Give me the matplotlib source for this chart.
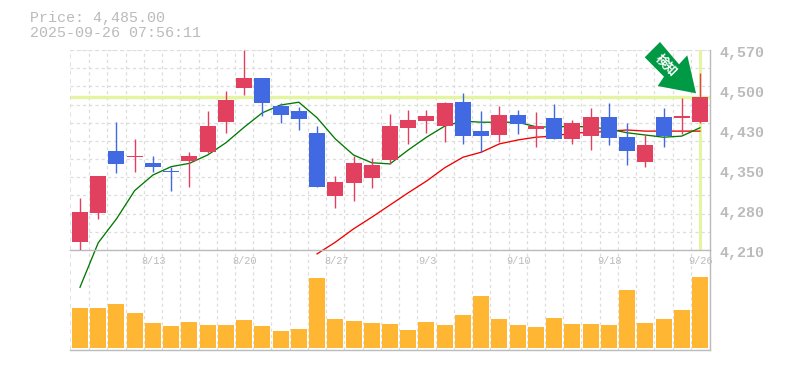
import numpy as np
import matplotlib
matplotlib.use("Agg")
import matplotlib.pyplot as plt
from matplotlib.patches import Polygon

W = 785
H = 370

opens = [4225,4277,4388,4378,4367,4351,4371,4387,4441,4502,4520,4469,4460,4421,4307,4331,4340,4372,4430,4442,
         4433,4476,4424,4417,4453,4428,4448,4410,4415,4449,4413,4368,4449,4448,4440]
closes = [4278,4343,4365,4380,4360,4350,4379,4433,4480,4520,4475,4453,4446,4324,4332,4367,4363,4433,4444,4451,
          4475,4415,4415,4453,4437,4433,4410,4439,4449,4412,4388,4399,4415,4451,4485]
highs = [4304,4343,4440,4410,4379,4359,4386,4460,4496,4570,4520,4474,4467,4433,4343,4379,4376,4455,4462,4462,
         4476,4493,4460,4469,4462,4458,4473,4444,4466,4475,4439,4419,4466,4484,4529]
lows = [4210,4266,4349,4351,4351,4317,4324,4385,4421,4489,4451,4439,4426,4323,4286,4298,4322,4365,4401,4421,
        4404,4401,4386,4404,4419,4395,4410,4401,4390,4399,4363,4359,4395,4419,4439]
ma_short = [4143,4223,4266,4317,4345,4360,4366,4381,4403,4431,4457,4471,4476,4448,4410,4381,4367,4365,4390,4413,
            4433,4442,4440,4440,4440,4432,4431,4433,4431,4428,4421,4417,4413,4415,4430]
ma_long = [np.nan]*13 + [4203,4224,4248,4269,4291,4313,4334,4358,4377,4386,4401,4408,4413,4415,4421,4421,4424,
                         4426,4424,4424,4424,4424]
volumes = [40,40,44,35,25,22,26,23,23,28,22,17,19,70,29,27,25,24,18,26,23,33,52,29,23,21,30,24,24,23,58,25,29,38,71]

price_ticks = [4210,4282,4354,4426,4498,4570]
price_labels = ["4,210","4,280","4,350","4,430","4,500","4,570"]
date_pos = [4,9,14,19,24,29,34]
date_labels = ["8/13","8/20","8/27","9/3","9/10","9/18","9/26"]
last_price = 4485

RED = "#E2405F"
BLUE = "#4169E1"
GREY = "#BBBBBB"
GRID = "#DDDDDD"
MARK = "#E3F5A0"
MONO = "Liberation Mono"

fig = plt.figure(figsize=(W/100, H/100), dpi=100)
vol = fig.add_axes([70/W, 1-350/H, 640/W, 100/H], zorder=1)
ax = fig.add_axes([70/W, 1-250/H, 640/W, 200/H], zorder=2)
ax.patch.set_alpha(0)

x = np.arange(len(opens))
xlim = (-10/18.235, 630/18.235)

for a in (ax, vol):
    a.set_xlim(xlim)
    a.spines["top"].set_visible(False)
    a.spines["left"].set_visible(False)
    a.spines["right"].set_color(GREY)
    a.spines["bottom"].set_color(GREY)
    a.spines["right"].set_linewidth(1.0)
    a.spines["bottom"].set_linewidth(1.0)
    a.set_xticks(x[:-1] + 0.5, minor=False)
    a.set_xticklabels([])
    a.tick_params(length=0, labelleft=False, labelbottom=False)
    a.grid(True, axis="x", color=GRID, linestyle=(0, (2.5, 2.5)), linewidth=0.9)
    a.axvline(xlim[0], color=GRID, linestyle=(0, (2.5, 2.5)), linewidth=1.2)
    a.set_axisbelow(True)

# price panel
ax.set_ylim(4210, 4570)
ax.set_yticks(np.linspace(4210, 4570, 12))
ax.grid(True, axis="y", color=GRID, linestyle=(0, (2.5, 2.5)), linewidth=0.9)
ax.axhline(4570, color=GRID, linestyle=(0, (2.5, 2.5)), linewidth=1.2)

ax.axhline(last_price, color=MARK, linewidth=2.4, zorder=1.5)
ax.axvline(x[-1], color=MARK, linewidth=2.2, zorder=1.5)

ax.plot(x, ma_long, color="#F00000", linewidth=0.95, zorder=2, clip_on=False)
ax.plot(x, ma_short, color="#007A00", linewidth=0.95, zorder=2.1, clip_on=False)

colors = [RED if c >= o else BLUE for o, c in zip(opens, closes)]
ax.vlines(x, lows, highs, colors=colors, linewidth=1.0, zorder=3)
bottoms = np.minimum(opens, closes)
heights = np.maximum(np.abs(np.array(closes) - np.array(opens)), 2)
ax.bar(x, heights, bottom=bottoms, width=16/18.235, color=colors, zorder=3.1)

for p, s in zip(price_ticks, price_labels):
    ax.annotate(s, xy=(1, p), xycoords=("axes fraction", "data"), xytext=(10, -3),
                textcoords="offset pixels", ha="left", va="center",
                family=MONO, fontsize=10.8, color=GREY, fontweight="bold", annotation_clip=False)

# volume panel
vol.set_ylim(-2, 98)
vol.set_yticks([])
vol.bar(x, volumes, width=16/18.235, color="#FFB733", zorder=3)
for p, s in zip(date_pos, date_labels):
    vol.annotate(s, xy=(p, 1), xycoords=("data", "axes fraction"), xytext=(1, -11),
                 textcoords="offset pixels", ha="center", va="center",
                 family=MONO, fontsize=7.4, color=GREY, annotation_clip=False)

# header
fig.text(30/W, 1-18/H, "Price: 4,485.00", family=MONO, fontsize=10.8, color=GREY, ha="left", va="center")
fig.text(30/W, 1-33/H, "2025-09-26 07:56:11", family=MONO, fontsize=10.8, color=GREY, ha="left", va="center")

# badge arrow
badge = [(660,42),(644.7,57.3),(664,76.7),(657.7,86),(696,93.3),(687.3,55.3),(679,64.3)]
fig.add_artist(Polygon([(px/W, 1-py/H) for px, py in badge], closed=True, transform=fig.transFigure,
                       facecolor="#009944", edgecolor="none", zorder=5))
fig.text(666/W, 1-65.5/H, "検知", family=["Noto Sans CJK JP", "DejaVu Sans"], fontsize=9, fontweight="bold",
         color="white", rotation=-45, rotation_mode="anchor", ha="center", va="center", zorder=6)

fig.savefig("out.png", dpi=100)
